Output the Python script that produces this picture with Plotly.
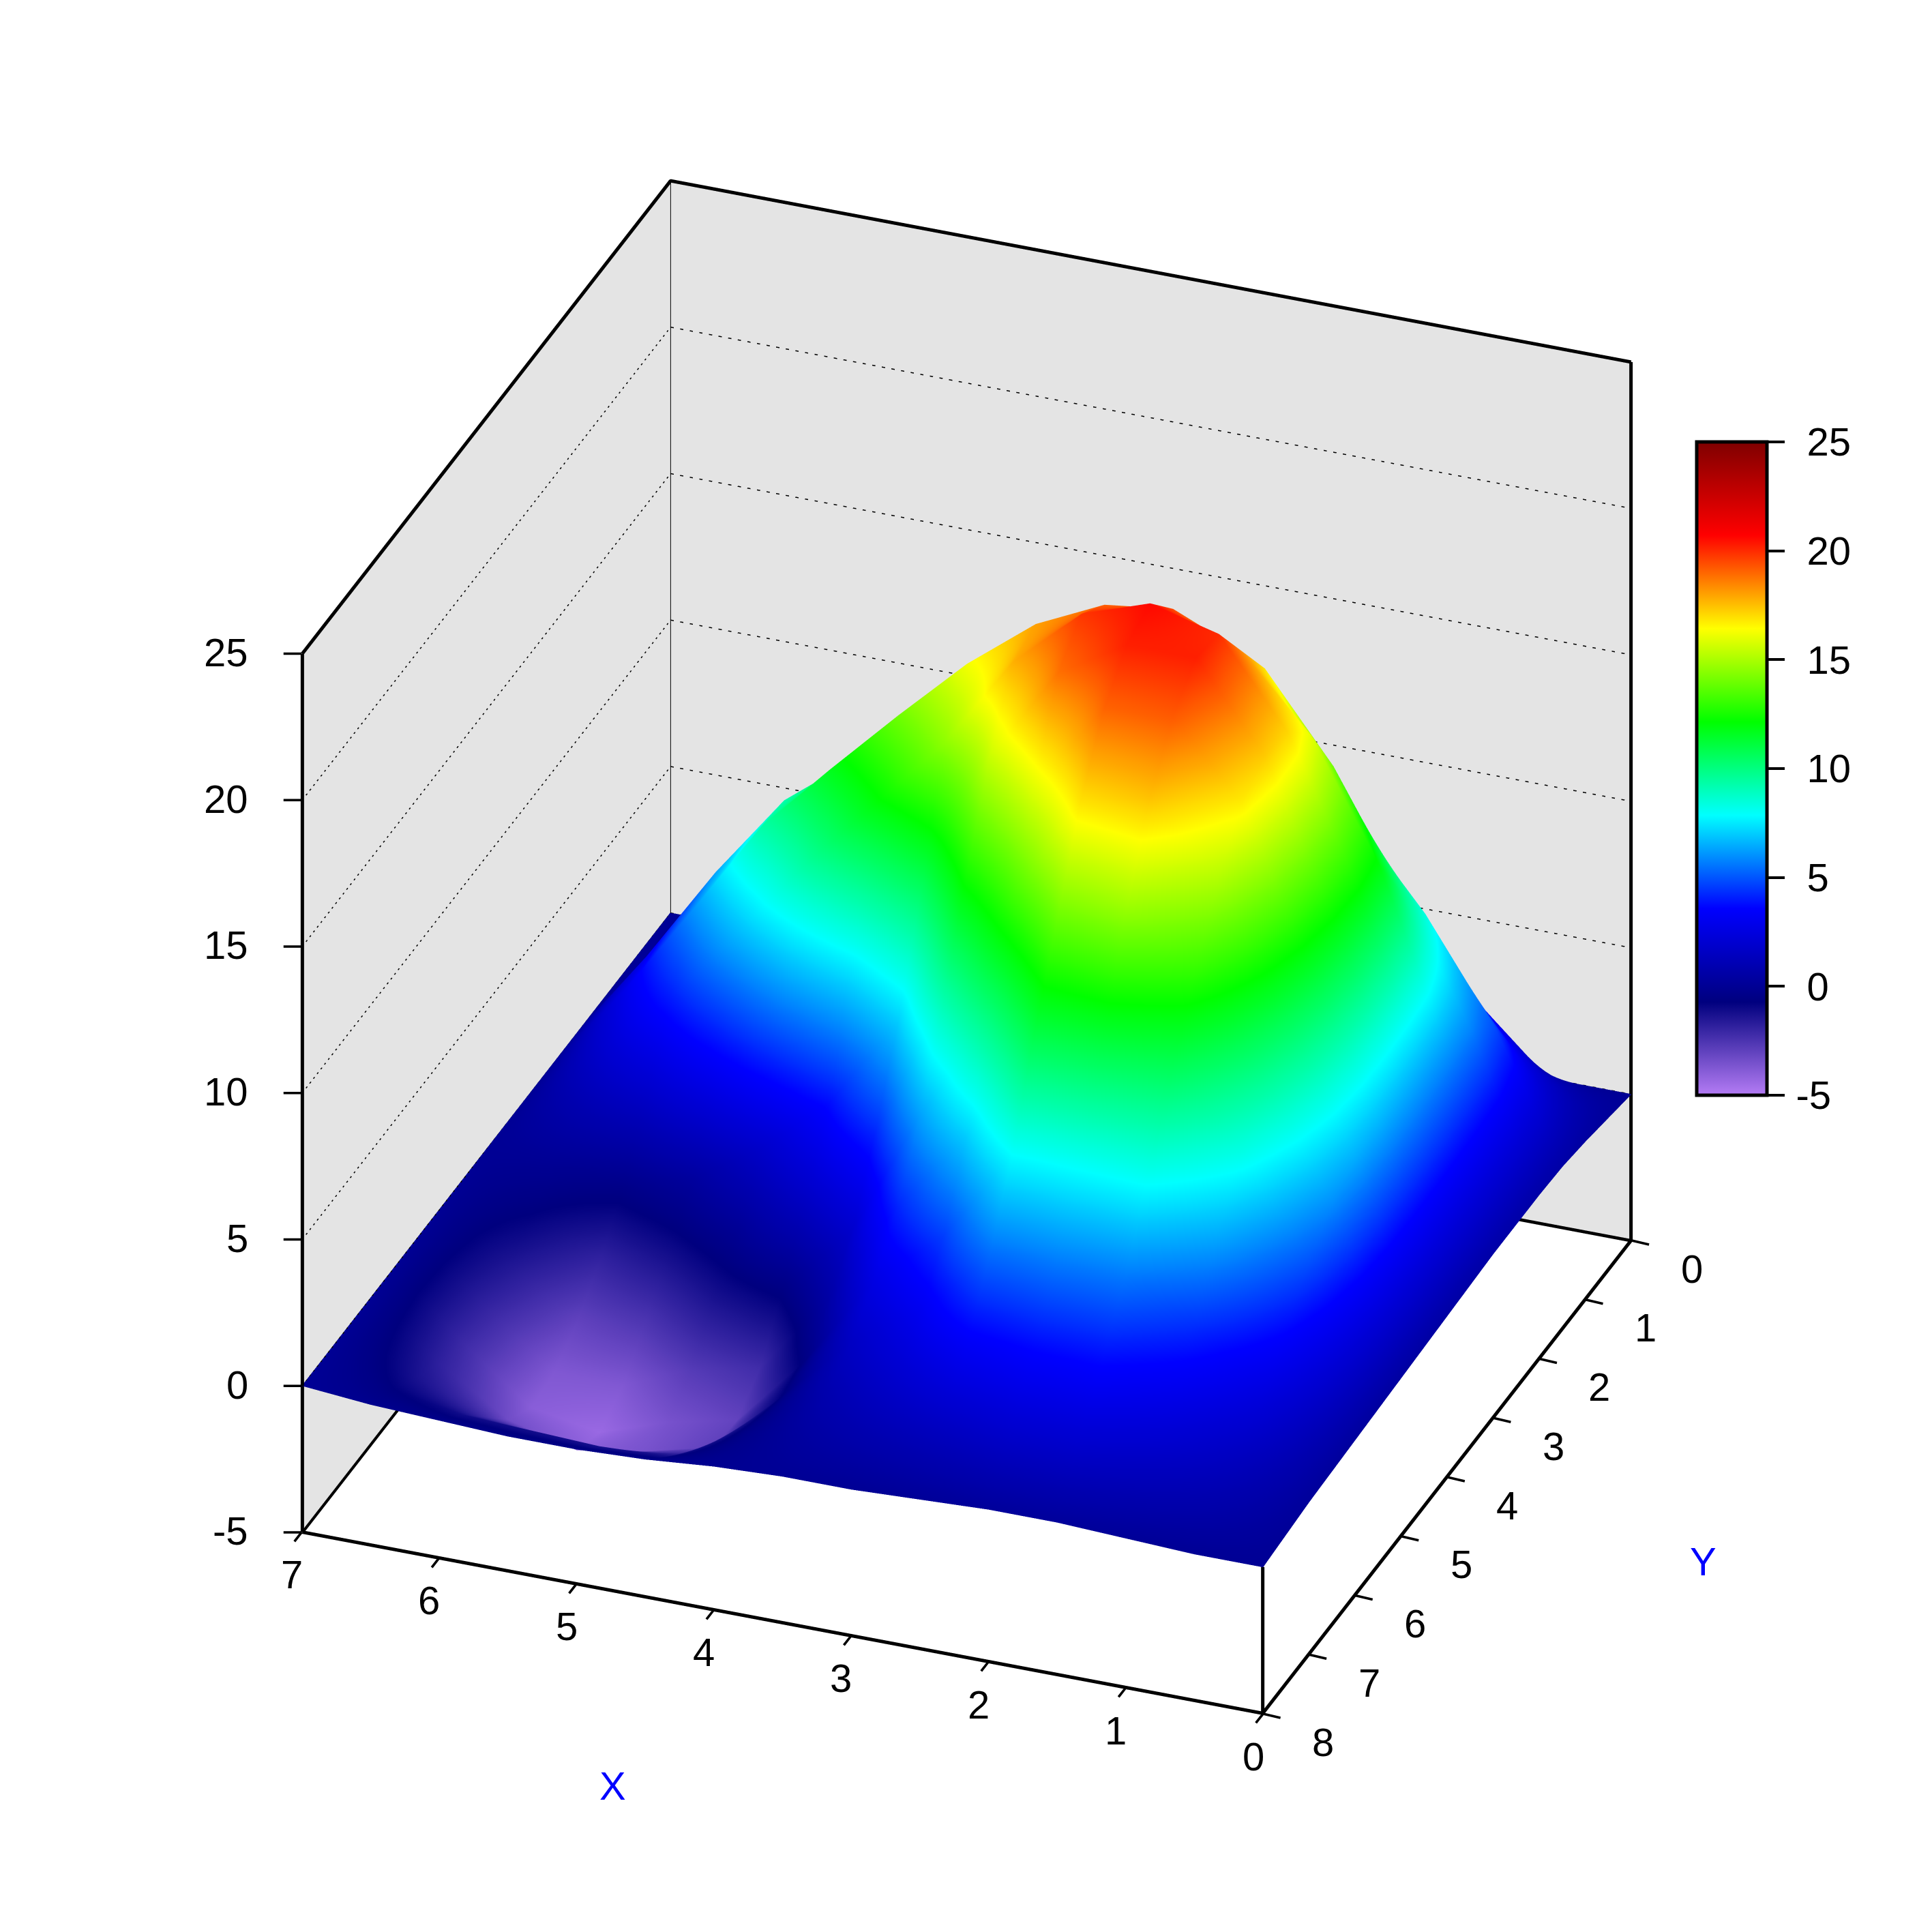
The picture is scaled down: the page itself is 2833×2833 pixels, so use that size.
import plotly.graph_objects as go

X_VALUES = [0, 0.5, 1, 1.5, 2, 2.5, 3, 3.5, 4, 4.5, 5, 5.5, 6, 6.5, 7]
Y_VALUES = [0, 0.5, 1, 1.5, 2, 2.5, 3, 3.5, 4, 4.5, 5, 5.5, 6, 6.5, 7, 7.5, 8]
# surface heights, one list per x value, running from y=0 to y=8
Z_X00 = [0, .2, .4, .55, .6, .6, .6, .55, .5, .45, .4, .35, .3, .25, .2, .1, 0]
Z_X05 = [0, 1.4, 3, 4.9, 5.8, 6.1, 6.3, 6.5, 6.6, 6.5, 6, 5, 3.8, 2.6, 1.6, .8, 0]
Z_X10 = [0, 3.5, 5.5, 8.3, 10, 12, 12.4, 12.2, 11.6, 10.7, 9.6, 8.3, 6.5, 4.4, 2.8, 1.4, .1]
Z_X15 = [0, 4.5, 7.5, 11, 13.9, 16, 17.1, 17.3, 16.7, 15.1, 13, 10.7, 8.2, 5.7, 3.8, 2, .2]
Z_X20 = [0, 5, 9, 13, 16.8, 18.4, 20, 20.2, 19.2, 17.4, 14.8, 11.2, 8, 5.7, 3.7, 2, .2]
Z_X25 = [0, 4.5, 9, 13.5, 17.5, 19.4, 20.6, 20.2, 19, 16.9, 14, 11, 7.8, 5.3, 3.2, 1.5, .1]
Z_X30 = [0, 4, 8.5, 13, 17, 19.1, 19.8, 18.8, 16, 13.2, 10, 7, 4.6, 3.1, 2, 1, 0]
Z_X35 = [0, 3.5, 7.5, 12, 16, 18, 17.7, 15.5, 12.5, 9.2, 6.3, 4.2, 2.7, 1.6, .9, .4, 0]
Z_X40 = [0, 2.8, 6.5, 11, 15.6, 16.2, 14.5, 10.5, 7, 4.2, 1.9, .6, -.5, -.7, -.5, -.3, -.1]
Z_X45 = [0, 2.2, 5.5, 9.5, 13.2, 14, 12, 7.7, 3.8, 1.8, -.5, -2.2, -3, -2.9, -2.1, -1.2, -.3]
Z_X50 = [0, 1.8, 4.6, 8, 11, 11.7, 9.5, 5.8, 1.8, 0, -1.3, -2.7, -3.5, -3.5, -2.5, -1.3, -.4]
Z_X55 = [0, 1.4, 3.6, 6.3, 9.2, 9.3, 6.7, 3.6, .3, -1.1, -2.5, -3.7, -4.3, -3.9, -2.5, -1.2, -.4]
Z_X60 = [0, 1, 2.5, 4.5, 6.3, 6, 4, 1.8, -.4, -1.9, -3, -3.7, -3.9, -3.3, -2.2, -1.1, -.3]
Z_X65 = [0, .5, 1.2, 2.2, 3, 2.8, 1.9, .9, 0, -.7, -1.4, -1.9, -2.1, -1.8, -1.3, -.7, -.2]
Z_X70 = [0]*17
COLUMNS = [Z_X00, Z_X05, Z_X10, Z_X15, Z_X20, Z_X25, Z_X30, Z_X35, Z_X40, Z_X45, Z_X50, Z_X55, Z_X60, Z_X65, Z_X70]
Z_ROWS = [list(r) for r in zip(*COLUMNS)]

X_RANGE = [0, 7]
Y_RANGE = [0, 8]
Z_RANGE = [-5, 25]
X_TICKS = [0, 1, 2, 3, 4, 5, 6, 7]
Y_TICKS = [0, 1, 2, 3, 4, 5, 6, 7, 8]
Z_TICKS = [-5, 0, 5, 10, 15, 20, 25]
Z_GRID = [0, 5, 10, 15, 20]

COLORS = ["#b57cf5", "#00007f", "#0000ff", "#00ffff", "#00ff00", "#ffff00", "#ff0000", "#7f0000"]
COLORSCALE = [[i/7, c] for i, c in enumerate(COLORS)]
FONT = "Liberation Sans"
SIZE = 58
W = 2833.0

x0, x1 = X_RANGE
y0, y1 = Y_RANGE
z0, z1 = Z_RANGE
# lines are kept a hair inside the box so the clip test at its bounds does not eat them
EPS = 0.004
xa, xb = x0 + EPS, x1 - EPS
ya, yb = y0 + EPS, y1 - EPS
za, zb = z0 + EPS, z1 - EPS

fig = go.Figure()
fig.add_trace(go.Surface(
    x=X_VALUES, y=Y_VALUES, z=Z_ROWS, cmin=z0, cmax=z1, colorscale=COLORSCALE,
    lighting=dict(ambient=1, diffuse=0, specular=0, roughness=1, fresnel=0),
    hoverinfo="skip",
    colorbar=dict(
        tickmode="array", tickvals=Z_TICKS,
        ticktext=[("\u200a-%d" % -t) if t < 0 else "\u00a0\u200a%d" % t for t in Z_TICKS],
        ticks="outside", ticklen=24, tickwidth=4, tickcolor="black",
        tickfont=dict(family=FONT, size=SIZE, color="black"),
        outlinecolor="black", outlinewidth=5, borderwidth=0,
        thicknessmode="pixels", thickness=103, lenmode="pixels", len=958,
        x=2480/W, xanchor="left", y=0.605, yanchor="middle", xpad=0, ypad=0,
    ),
))

def frame(xs, ys, zs, width=10, dash="solid", color="black"):
    fig.add_trace(go.Scatter3d(x=xs, y=ys, z=zs, mode="lines", showlegend=False, hoverinfo="skip",
                               line=dict(color=color, width=width, dash=dash)))

# box outline
frame([xb, xb, xa, xa, xb], [yb, ya, ya, yb, yb], [za]*5)       # floor
frame([xb, xb], [yb, yb], [za, zb])                             # left upright (z axis)
frame([xa, xa], [ya, ya], [za, zb])                             # right upright
frame([xa, xa], [yb, yb], [za, 0])                              # front stub
frame([xb, xb, xa], [yb, ya, ya], [zb, zb, zb])                 # top edges
frame([xb, xb], [ya, ya], [za, zb], width=2)                    # back corner
for z in Z_GRID:
    frame([xb, xb, xa], [yb, ya, ya], [z, z, z], width=3, dash="dot")

def label(x, y, z, text, **kw):
    return dict(x=x, y=y, z=z, text=str(text), showarrow=False,
                font=dict(family=FONT, size=SIZE, color="black"), **kw)

def tick(x, y, z, ax, ay):
    return dict(x=x, y=y, z=z, showarrow=True, arrowhead=0, arrowwidth=3.6, arrowcolor="black",
                ax=ax, ay=ay, standoff=0, startstandoff=0, font=dict(size=1), borderpad=0)

notes = []
for t in X_TICKS:
    notes.append(tick(t, y1, z0, -11, 14))
    notes.append(label(t, y1, z0, t, xshift=-14.5, yshift=-62))
for t in Y_TICKS:
    notes.append(tick(x0, t, z0, 26, 6))
    notes.append(label(x0, t, z0, t, xshift=88, yshift=-41))
for t in Z_TICKS:
    notes.append(tick(x1, y1, t, -27, 0))
    notes.append(label(x1, y1, t, t, xanchor="right", xshift=-76, yshift=2))

axis = dict(showgrid=False, zeroline=False, showspikes=False, showline=False, title=dict(text=""),
            ticks="", showticklabels=False)
fig.update_layout(
    width=2833, height=2833, margin=dict(l=0, r=0, t=0, b=0), paper_bgcolor="white", showlegend=False,
    font=dict(family=FONT, size=SIZE),
    scene=dict(
        domain=dict(x=[0, 0.995], y=[0, 1]),
        xaxis=dict(axis, range=X_RANGE, showbackground=True, backgroundcolor="#e4e4e4"),
        yaxis=dict(axis, range=Y_RANGE, showbackground=True, backgroundcolor="#e4e4e4"),
        zaxis=dict(axis, range=Z_RANGE, showbackground=False),
        aspectmode="manual", aspectratio=dict(x=1.066, y=1.066, z=1.045),
        camera=dict(projection=dict(type="orthographic"),
                    eye=dict(x=-0.5757, y=1.5017, z=0.8804), up=dict(x=0, y=0, z=1),
                    center=dict(x=0, y=0, z=-0.029)),
        annotations=notes,
    ),
    annotations=[
        dict(text="X", x=493/1568, y=1-1445/1568, xref="paper", yref="paper", showarrow=False,
             xanchor="center", yanchor="middle", font=dict(family=FONT, size=SIZE, color="#0000ff")),
        dict(text="Y", x=1378/1568, y=1-1263/1568, xref="paper", yref="paper", showarrow=False,
             xanchor="center", yanchor="middle", font=dict(family=FONT, size=SIZE, color="#0000ff")),
    ],
)
fig.write_html("out.html")
